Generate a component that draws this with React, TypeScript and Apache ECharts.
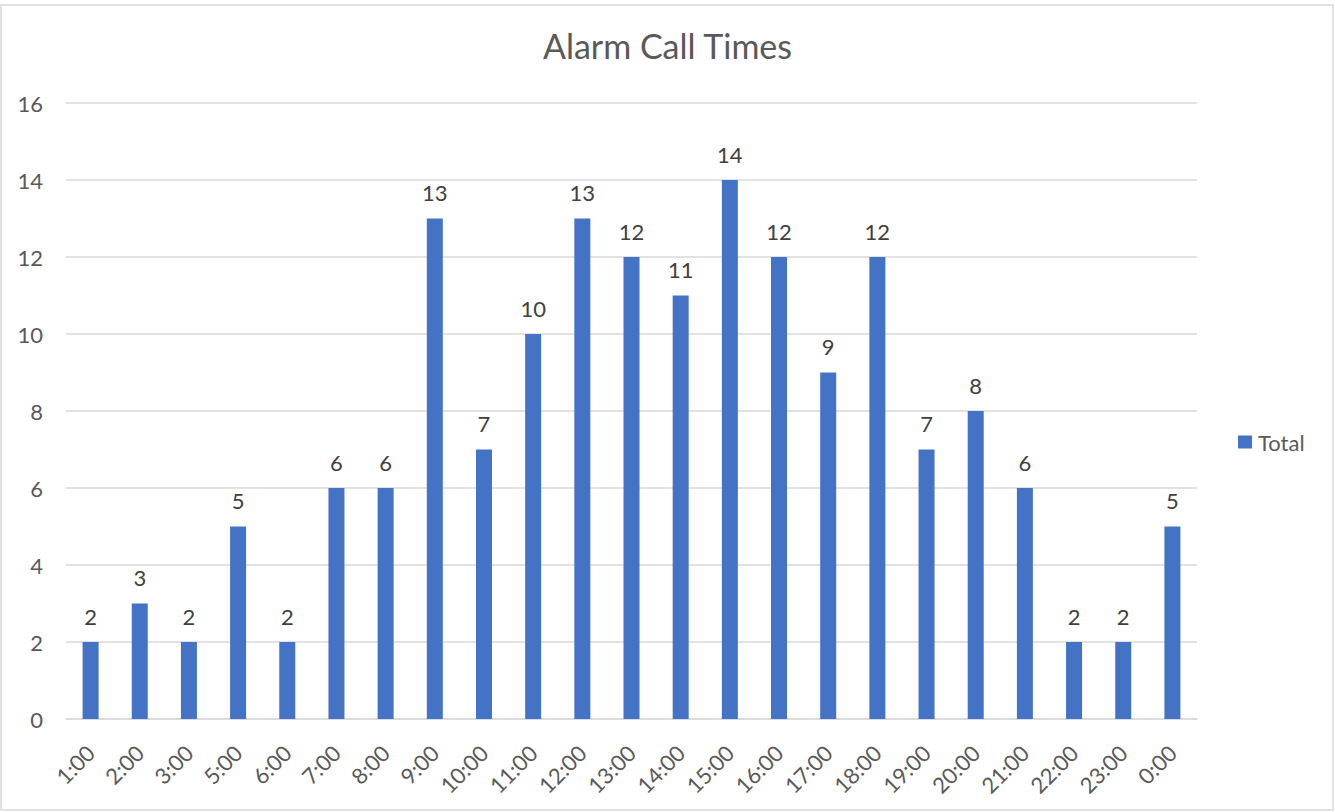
import React, { useEffect, useRef } from "react";
import * as echarts from "echarts";

const categories = ["1:00","2:00","3:00","5:00","6:00","7:00","8:00","9:00","10:00","11:00","12:00","13:00","14:00","15:00","16:00","17:00","18:00","19:00","20:00","21:00","22:00","23:00","0:00"];
const totals = [2,3,2,5,2,6,6,13,7,10,13,12,11,14,12,9,12,7,8,6,2,2,5];
const titleText = "Alarm Call Times";
const seriesName = "Total";

export default function App() {
  const ref = useRef<HTMLDivElement>(null);
  useEffect(() => {
    if (!ref.current) return;
    const chart = echarts.init(ref.current, null, { renderer: "svg" });
    const font = "Lato, 'Liberation Sans', sans-serif";
    chart.setOption({
      animation: false,
      backgroundColor: "#ffffff",
      textStyle: { fontFamily: font },
      title: {
        text: titleText,
        left: "center",
        top: 23,
        textStyle: { fontSize: 34, fontWeight: "normal", color: "#595959", fontFamily: font },
      },
      legend: {
        data: [seriesName],
        orient: "vertical",
        left: 1238,
        top: 431,
        padding: 0,
        icon: "rect",
        itemWidth: 14,
        itemHeight: 13,
        itemGap: 6,
        textStyle: { fontSize: 22, color: "#595959", fontFamily: font, padding: [0, 0, 0, 1] },
      },
      graphic: [
        {
          type: "rect",
          shape: { x: 1, y: 5, width: 1332, height: 805 },
          style: { fill: "none", stroke: "#d9d9d9", lineWidth: 1.5 },
          silent: true,
        },
      ],
      grid: { left: 66, right: 1335 - 1197, top: 103, bottom: 812 - 719, containLabel: false },
      xAxis: {
        type: "category",
        data: categories,
        axisLine: { show: true, lineStyle: { color: "#d9d9d9", width: 1.5 } },
        axisTick: { show: false },
        axisLabel: { rotate: 45, fontSize: 22, color: "#595959", margin: 30, interval: 0, fontFamily: font },
      },
      yAxis: {
        type: "value",
        min: 0,
        max: 16,
        interval: 2,
        axisLine: { show: false },
        axisTick: { show: false },
        splitLine: { lineStyle: { color: "#d9d9d9", width: 1.5 } },
        axisLabel: { fontSize: 22, color: "#595959", margin: 23, fontFamily: font },
      },
      series: [
        {
          name: seriesName,
          type: "bar",
          data: totals,
          barWidth: 16,
          itemStyle: { color: "#4472c4" },
          label: { show: true, position: "top", distance: 15, fontSize: 22, color: "#404040", fontFamily: font },
        },
      ],
    });
    return () => chart.dispose();
  }, []);
  return <div ref={ref} style={{ position: "fixed", left: 0, top: 0, width: 1335, height: 812 }} />;
}
